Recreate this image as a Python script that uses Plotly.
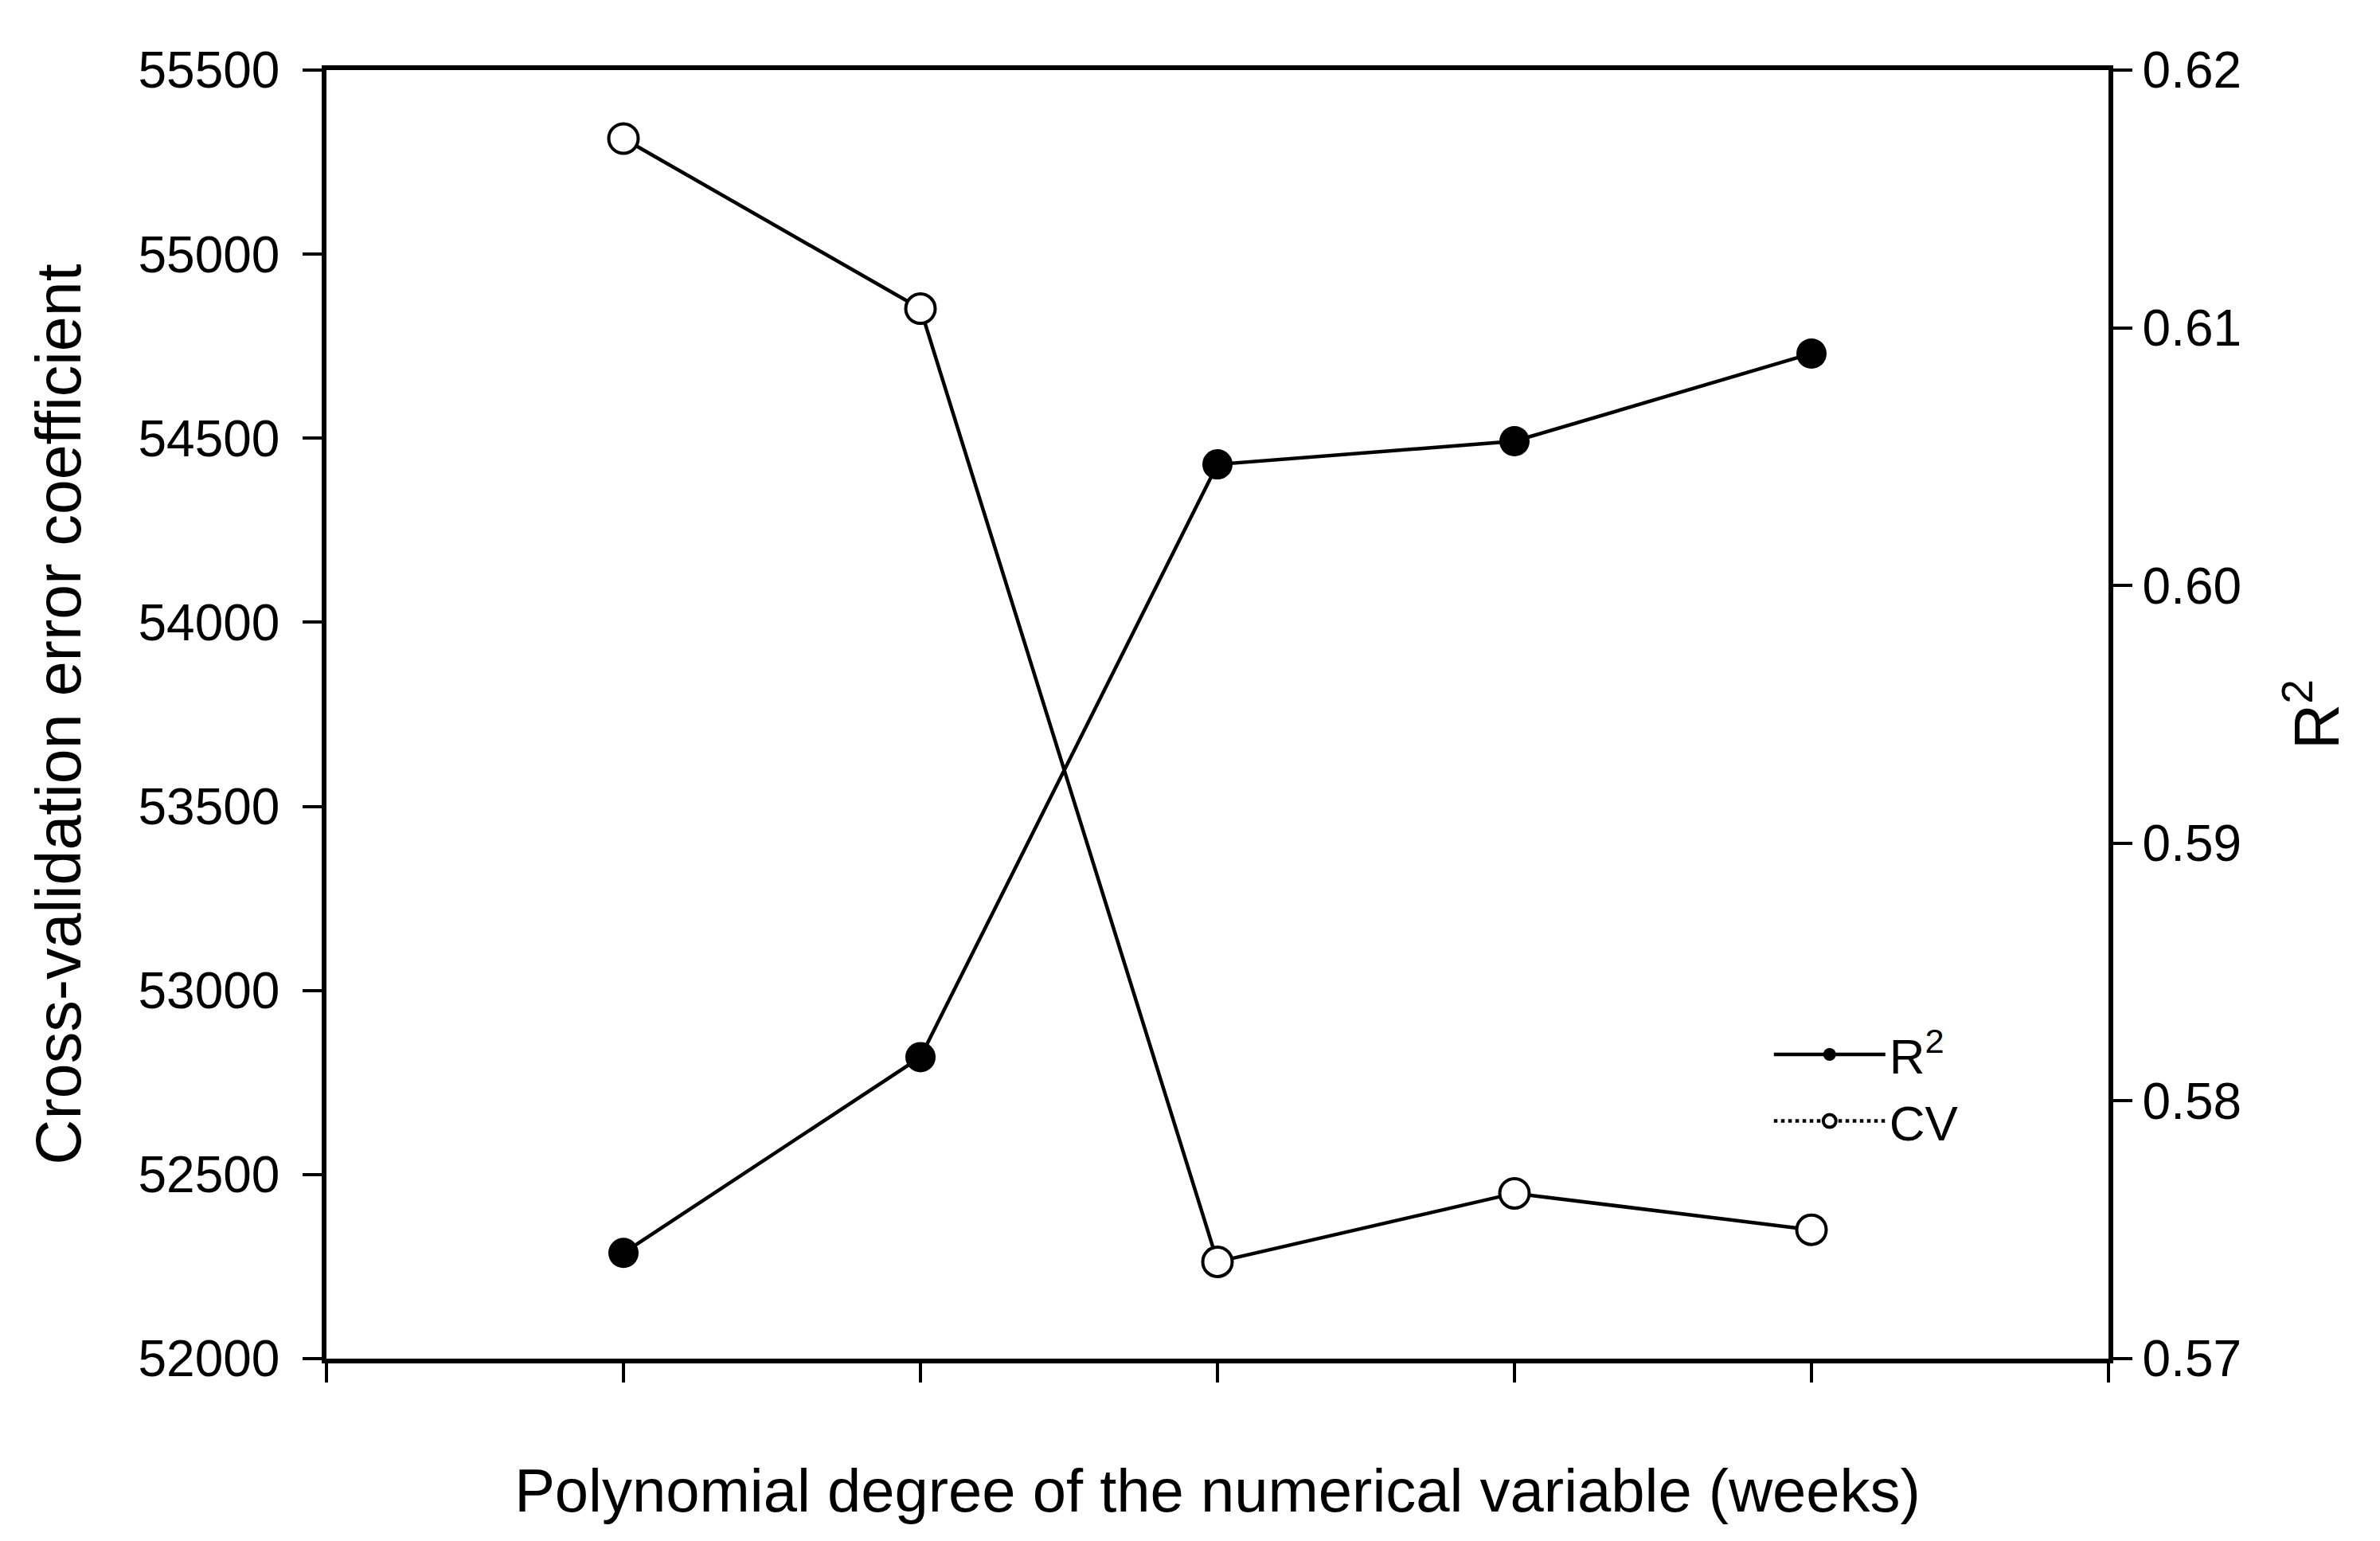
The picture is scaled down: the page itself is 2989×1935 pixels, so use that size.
import plotly.graph_objects as go

degree = [1, 2, 3, 4, 5]
cv = [55314, 54852, 52263, 52449, 52350]
r2 = [0.5741, 0.5817, 0.6047, 0.6056, 0.6090]

font = "Arial, Liberation Sans, sans-serif"
W, H = 2989, 1935

fig = go.Figure()

# CV on left axis (solid line in plot, dotted in legend)
fig.add_trace(go.Scatter(x=degree, y=cv, mode="lines+markers", showlegend=False,
                         line=dict(color="black", width=4.5),
                         marker=dict(symbol="circle", size=37, color="white",
                                     line=dict(color="black", width=4))))

# R2 on right axis
fig.add_trace(go.Scatter(x=degree, y=r2, mode="lines+markers", name="R<sup>2</sup>",
                         yaxis="y2",
                         line=dict(color="black", width=4.5),
                         marker=dict(symbol="circle", size=38, color="black")))

# legend entry for CV
fig.add_trace(go.Scatter(x=[None], y=[None], mode="lines+markers", name="CV",
                         line=dict(color="black", width=4.5, dash="dot"),
                         marker=dict(symbol="circle", size=37, color="white",
                                     line=dict(color="black", width=4))))

axis_common = dict(showgrid=False, zeroline=False, linecolor="black", linewidth=5.5,
                   ticks="outside", ticklen=24, tickwidth=4, tickcolor="black",
                   tickfont=dict(family=font, size=64, color="black"))

fig.update_layout(
    width=W, height=H,
    paper_bgcolor="white", plot_bgcolor="white",
    margin=dict(l=402, r=349, t=80, b=237),
    font=dict(family=font, color="black"),
    xaxis=dict(range=[0, 6], tickvals=[0, 1, 2, 3, 4, 5, 6], showticklabels=False,
               mirror=True,
               title=dict(text="Polynomial degree of the numerical variable (weeks)",
                          font=dict(family=font, size=76), standoff=112),
               **axis_common),
    yaxis=dict(range=[52000, 55500], dtick=500, tickformat="d", ticklabelstandoff=16,
               title=dict(text="Cross-validation error coefficient",
                          font=dict(family=font, size=79), standoff=48),
               **axis_common),
    yaxis2=dict(range=[0.57, 0.62], dtick=0.01, tickformat=".2f",
                overlaying="y", side="right",
                title=dict(text="R<sup>2</sup>", font=dict(family=font, size=79), standoff=70),
                **axis_common),
    legend=dict(x=0.81, y=0.21, xanchor="left", yanchor="middle",
                bgcolor="rgba(0,0,0,0)", itemwidth=140,
                font=dict(family=font, size=62, color="black"),
                tracegroupgap=0),
)

fig.write_html("out.html")
